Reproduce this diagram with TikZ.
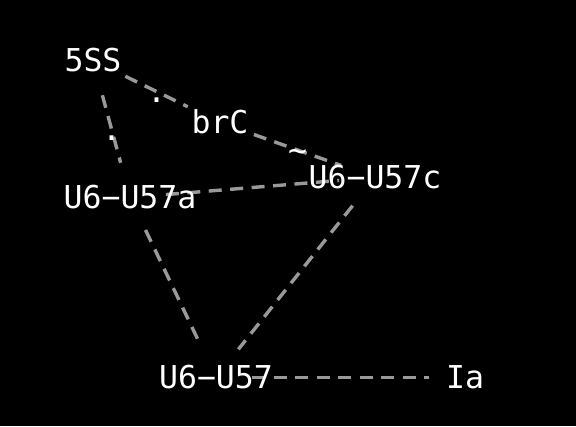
\documentclass[tikz,border=0pt]{standalone}
\usepackage{fontspec}
\setmonofont{DejaVu Sans Mono}
\pgfdeclarelayer{bg}
\pgfdeclarelayer{edges}
\pgfsetlayers{bg,edges,main}
\begin{document}
\begin{tikzpicture}[x=1pt,y=1pt,
  lbl/.style={text=white,font=\ttfamily\fontsize{31.5}{32}\selectfont,inner sep=0pt,text height=23pt,text depth=0pt,anchor=center},
  edge/.style={draw=black!40!white,line width=3.4pt,dash pattern=on 13pt off 8.5pt,shorten <=36pt,shorten >=36pt},
  elbl/.style={text=white,font=\ttfamily\fontsize{31.5}{32}\selectfont,inner sep=0pt,text height=23pt,text depth=0pt,anchor=center}]
\begin{pgfonlayer}{bg}
\fill[black] (0,0) rectangle (576,426);
\end{pgfonlayer}
\useasboundingbox (0,0) rectangle (576,426);
\node[lbl] (s) at (93,365.5) {5SS};
\node[lbl] (b) at (220,303.5) {brC};
\node[lbl] (a) at (130,228.5) {U6−U57a};
\node[lbl] (c) at (375,248.5) {U6−U57c};
\node[lbl] (u) at (216,48.5) {U6−U57};
\node[lbl] (i) at (465,48.5) {Ia};
\begin{pgfonlayer}{edges}
\path[edge] (s.center) -- (b.center);
\path[edge] (s.center) -- (a.center);
\path[edge] (b.center) -- (c.center);
\path[edge] (a.center) -- (c.center);
\path[edge] (a.center) -- (u.center);
\path[edge] (c.center) -- (u.center);
\path[edge] (u.center) -- (i.center);
\end{pgfonlayer}
\path (s.center) -- node[elbl] (l1) {.} (b.center);
\path (s.center) -- node[elbl] (l2) {.} (a.center);
\path (b.center) -- node[elbl] (l3) {\~{}} (c.center);
\end{tikzpicture}
\end{document}
